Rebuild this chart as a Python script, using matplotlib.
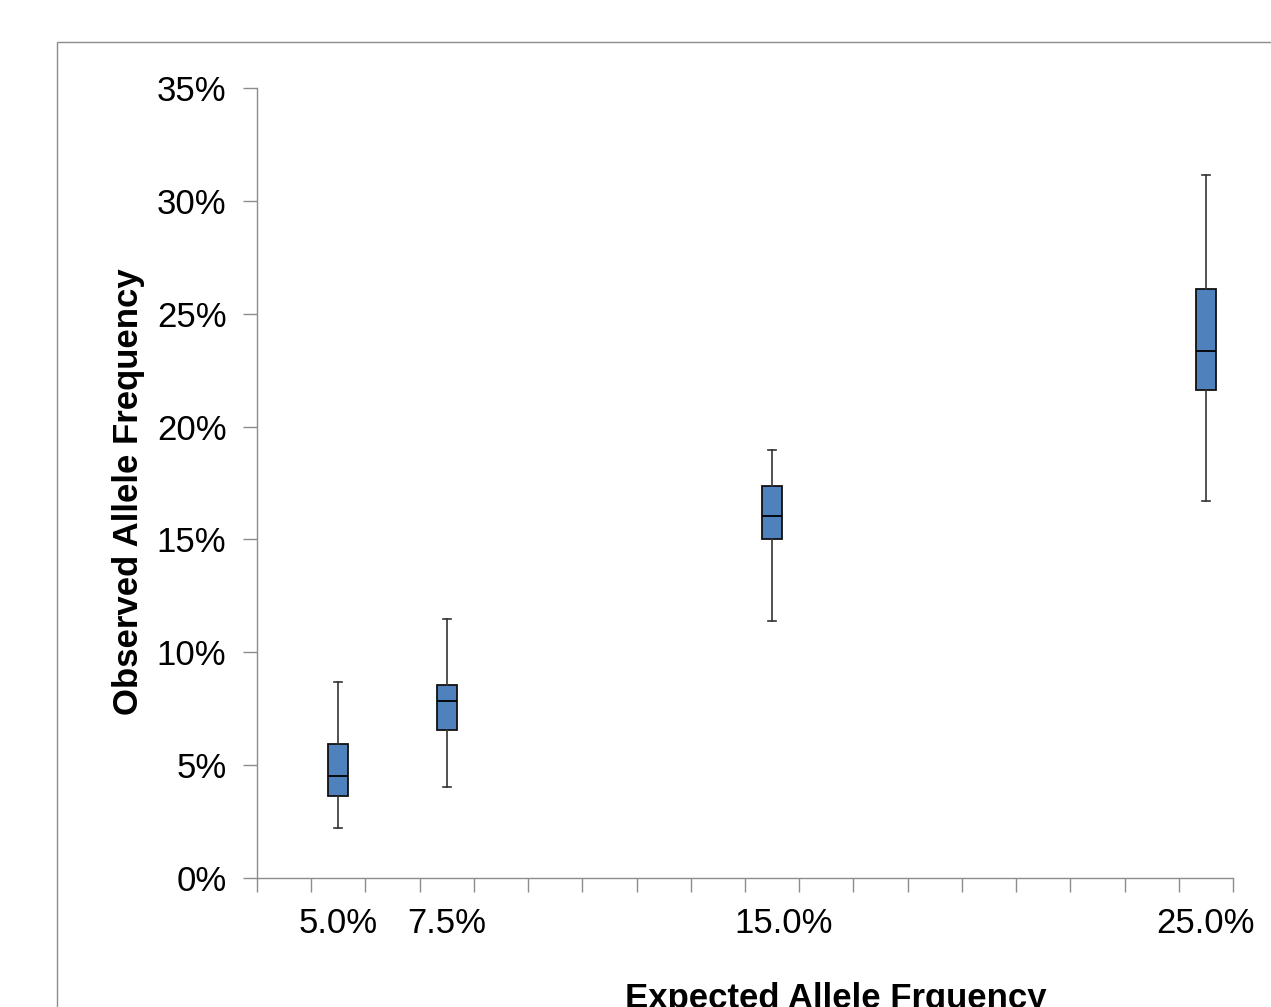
import matplotlib
matplotlib.use("Agg")
import matplotlib.pyplot as plt
import matplotlib.transforms as mtransforms
from matplotlib.patches import Rectangle

plt.rcParams['font.family'] = ['Liberation Sans', 'DejaVu Sans']

# category slots on the x axis (Excel style, 18 slots), only some carry data
n_slots = 18
label_slots = [1, 3, 9, 17]
slot_labels = ["5.0%", "7.5%", "15.0%", "25.0%"]

# box statistics (percent): low whisker, q1, median, q3, high whisker
slots = [1, 3, 9, 17]
whislo = [2.22, 4.03, 11.39, 16.70]
q1 = [3.63, 6.56, 15.02, 21.62]
med = [4.52, 7.84, 16.04, 23.35]
q3 = [5.94, 8.55, 17.37, 26.09]
whishi = [8.68, 11.47, 18.96, 31.15]

yticks = [0, 5, 10, 15, 20, 25, 30, 35]

fig = plt.figure(figsize=(12.71, 10.07), dpi=100)
W, H = 1271, 1007

# chart-area border
fig.patches.append(Rectangle((57 / W, -0.1), 1.2, 1 - 42 / H + 0.1,
                             transform=fig.transFigure, fill=False,
                             edgecolor="#8c8c8c", linewidth=1.0))

ax = fig.add_axes([257 / W, 1 - 878 / H, (1233 - 257) / W, (878 - 88) / H])

stats = []
for i in range(len(slots)):
    stats.append(dict(whislo=whislo[i], q1=q1[i], med=med[i], q3=q3[i],
                      whishi=whishi[i], fliers=[]))

positions = [s + 0.5 for s in slots]
ax.bxp(stats, positions=positions, widths=0.37, patch_artist=True,
       showfliers=False, capwidths=0.15,
       boxprops=dict(facecolor="#4F81BD", edgecolor="#111111", linewidth=1.3),
       medianprops=dict(color="black", linewidth=1.3),
       whiskerprops=dict(color="#333333", linewidth=1.2),
       capprops=dict(color="#333333", linewidth=1.2))

ax.set_xlim(0, n_slots)
ax.set_ylim(0, 35)

ax.set_yticks(yticks)
ax.set_yticklabels([f"{v}%" for v in yticks], fontsize=25)

ax.set_xticks(range(n_slots + 1))
ax.set_xticklabels([])
ax.set_xticks([s + 0.5 for s in label_slots], minor=True)
ax.set_xticklabels(slot_labels, minor=True, fontsize=25)
ax.tick_params(axis="x", which="minor", length=0, pad=21)
ax.tick_params(axis="x", which="major", length=10, width=1, color="#8c8c8c")
ax.tick_params(axis="y", length=10, width=1, color="#8c8c8c", pad=12)

# the middle label sits a little right of its slot
shift = mtransforms.ScaledTranslation(8 / 72, 0, fig.dpi_scale_trans)
lab = ax.get_xticklabels(minor=True)[2]
lab.set_transform(lab.get_transform() + shift)

for side in ["top", "right"]:
    ax.spines[side].set_visible(False)
for side in ["left", "bottom"]:
    ax.spines[side].set_color("#8c8c8c")
    ax.spines[side].set_linewidth(1.0)

ax.set_ylabel("Observed Allele Frequency", fontsize=25, fontweight="bold")
ax.yaxis.set_label_coords(-0.115, 0.489)
ax.set_xlabel("Expected Allele Frquency", fontsize=25, fontweight="bold",
              va="center")
ax.xaxis.set_label_coords(0.593, -0.153)

fig.savefig("out.png", dpi=100)
